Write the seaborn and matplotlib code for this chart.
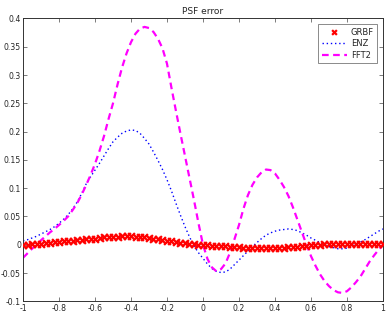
import numpy as np
import pandas as pd
import matplotlib
matplotlib.use("Agg")
import matplotlib.pyplot as plt
import seaborn as sns

sns.set_theme(style="ticks")
plt.rcParams["font.family"] = ["DejaVu Sans"]
plt.rcParams["xtick.direction"] = "in"
plt.rcParams["ytick.direction"] = "in"

x_vals = np.linspace(-1, 1, 81)

grbf = [
    0.000, 0.000, 0.001, 0.001, 0.002, 0.003, 0.004, 0.005, 0.0055, 0.006,
    0.007, 0.0075, 0.008, 0.009, 0.0095, 0.010, 0.011, 0.012, 0.013, 0.0135,
    0.014, 0.0145, 0.015, 0.015, 0.0148, 0.0145, 0.014, 0.013, 0.0125, 0.011,
    0.010, 0.009, 0.0075, 0.006, 0.005, 0.004, 0.003, 0.002, 0.001, 0.000,
    -0.0005, -0.001, -0.0015, -0.002, -0.0025, -0.003, -0.0035, -0.004, -0.0045, -0.005,
    -0.0055, -0.006, -0.006, -0.006, -0.006, -0.006, -0.0055, -0.005, -0.0048, -0.0045,
    -0.004, -0.004, -0.003, -0.002, -0.001, 0.000, 0.000, 0.001, 0.0015, 0.002,
    0.002, 0.002, 0.002, 0.002, 0.002, 0.0018, 0.0015, 0.001, 0.001, 0.0008,
    0.0007,
]

enz = [
    0.007, 0.009, 0.012, 0.015, 0.019, 0.023, 0.027, 0.032, 0.038, 0.045,
    0.053, 0.063, 0.075, 0.090, 0.107, 0.120, 0.132, 0.144, 0.157, 0.170,
    0.182, 0.190, 0.197, 0.201, 0.203, 0.202, 0.197, 0.188, 0.178, 0.164,
    0.149, 0.133, 0.115, 0.095, 0.073, 0.052, 0.032, 0.014, -0.002, -0.014,
    -0.024, -0.034, -0.042, -0.047, -0.049, -0.048, -0.043, -0.035, -0.027, -0.019,
    -0.011, -0.003, 0.004, 0.011, 0.017, 0.021, 0.024, 0.026, 0.027, 0.028,
    0.027, 0.025, 0.021, 0.017, 0.012, 0.008, 0.004, 0.000, -0.003, -0.005,
    -0.007, -0.007, -0.006, -0.003, 0.001, 0.005, 0.009, 0.014, 0.019, 0.024,
    0.028,
]

fft2 = [
    -0.023, -0.015, -0.007, 0.000, 0.008, 0.015, 0.022, 0.028, 0.035, 0.042,
    0.050, 0.061, 0.073, 0.088, 0.105, 0.123, 0.143, 0.166, 0.192, 0.222,
    0.250, 0.283, 0.313, 0.338, 0.358, 0.373, 0.382, 0.385, 0.383, 0.376,
    0.364, 0.347, 0.320, 0.277, 0.236, 0.196, 0.157, 0.118, 0.079, 0.038,
    0.000, -0.025, -0.040, -0.047, -0.043, -0.033, -0.014, 0.010, 0.035, 0.064,
    0.088, 0.106, 0.119, 0.128, 0.133, 0.132, 0.126, 0.115, 0.102, 0.086,
    0.066, 0.044, 0.022, 0.000, -0.020, -0.037, -0.052, -0.064, -0.073, -0.080,
    -0.084, -0.085, -0.082, -0.075, -0.066, -0.056, -0.043, -0.030, -0.019, -0.009,
    0.000,
]

xtick_labels = ["-1", "-0.8", "-0.6", "-0.4", "-0.2", "0", "0.2", "0.4", "0.6", "0.8", "1"]
ytick_labels = ["-0.1", "-0.05", "0", "0.05", "0.1", "0.15", "0.2", "0.25", "0.3", "0.35", "0.4"]

df = pd.DataFrame({"x": x_vals, "GRBF": grbf, "ENZ": enz, "FFT2": fft2})

fig = plt.figure(figsize=(3.9, 3.12), dpi=100)
ax = fig.add_axes([0.059, 0.034, 0.923, 0.907])

sns.lineplot(data=df, x="x", y="ENZ", ax=ax, color="blue", linewidth=1.0,
             linestyle=(0, (1, 2)), label="ENZ", zorder=2)
sns.lineplot(data=df, x="x", y="FFT2", ax=ax, color="magenta", linewidth=1.6,
             linestyle=(0, (3, 2)), label="FFT2", zorder=2)
sns.scatterplot(data=df, x="x", y="GRBF", ax=ax, marker="x", color="red",
                s=24, linewidth=1.6, label="GRBF", zorder=3)

ax.set_xlim(-1, 1)
ax.set_ylim(-0.1, 0.4)
ax.set_xticks(np.arange(-1, 1.01, 0.2))
ax.set_yticks(np.arange(-0.1, 0.401, 0.05))
ax.set_xticklabels(xtick_labels)
ax.set_yticklabels(ytick_labels)
ax.tick_params(labelsize=5.6, length=3, width=0.6, color="#666666",
               top=True, right=True)
ax.tick_params(axis="x", pad=2)
ax.tick_params(axis="y", pad=1.5)
ax.set_xlabel("")
ax.set_ylabel("")
for sp in ax.spines.values():
    sp.set_linewidth(0.7)
    sp.set_color("#333333")

ax.set_title("PSF error", fontsize=6.5, pad=3)

handles, labels = ax.get_legend_handles_labels()
order = [labels.index(n) for n in ["GRBF", "ENZ", "FFT2"]]
leg = ax.legend([handles[i] for i in order], [labels[i] for i in order],
                loc="upper right", fontsize=6, frameon=True, fancybox=False,
                edgecolor="#555555", handlelength=3, borderpad=0.4,
                labelspacing=0.3, handletextpad=0.5, borderaxespad=0.7,
                markerscale=0.7)
leg.get_frame().set_linewidth(0.6)

fig.savefig("out.png", dpi=100)
